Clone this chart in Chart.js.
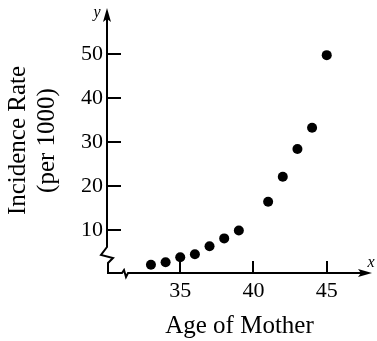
<!DOCTYPE html>
<html>
<head>
<meta charset="utf-8">
<script src="https://cdn.jsdelivr.net/npm/chart.js@4/dist/chart.umd.min.js"></script>
<style>
  html, body { margin: 0; padding: 0; background: #fff; }
  #chart { display: block; }
</style>
</head>
<body>
<canvas id="chart" width="377" height="341"></canvas>
<script>
// Incidence rate (per 1000 births) by age of mother
const ages = [33, 34, 35, 36, 37, 38, 39, 41, 42, 43, 44, 45];
const rates = [2.2, 2.8, 3.9, 4.6, 6.4, 8.2, 10.0, 16.5, 22.2, 28.5, 33.3, 49.8];
const xTickValues = [35, 40, 45];
const yTickValues = [10, 20, 30, 40, 50];

const SERIF = '"Liberation Serif", "Times New Roman", serif';

// Draws the axes with arrowheads, the axis-break zigzags and the inward tick marks
const axesPlugin = {
  id: 'brokenAxes',
  afterDraw(chart) {
    const ctx = chart.ctx;
    const { left: L, right: R, top: T, bottom: B } = chart.chartArea;
    const xs = chart.scales.x, ys = chart.scales.y;
    ctx.save();
    ctx.strokeStyle = '#000';
    ctx.fillStyle = '#000';
    ctx.lineWidth = 2;
    ctx.lineJoin = 'miter';

    // vertical axis with break
    ctx.beginPath();
    ctx.moveTo(L, T + 6);
    ctx.lineTo(L, B - 26);
    ctx.lineTo(L - 6, B - 18);
    ctx.lineTo(L + 6, B - 15);
    ctx.lineTo(L + 1, B - 10);
    ctx.lineTo(L + 1, B);
    // horizontal axis with break
    ctx.lineTo(L + 15, B);
    ctx.lineTo(L + 17, B - 3);
    ctx.lineTo(L + 19, B + 4);
    ctx.lineTo(L + 21, B);
    ctx.lineTo(R - 6, B);
    ctx.stroke();

    // arrowheads
    ctx.beginPath();
    ctx.moveTo(L, T);
    ctx.lineTo(L + 4, T + 14);
    ctx.lineTo(L, T + 11);
    ctx.lineTo(L - 4, T + 14);
    ctx.closePath();
    ctx.fill();
    ctx.beginPath();
    ctx.moveTo(R, B);
    ctx.lineTo(R - 14, B - 4);
    ctx.lineTo(R - 11, B);
    ctx.lineTo(R - 14, B + 4);
    ctx.closePath();
    ctx.fill();

    // tick marks pointing into the plot
    ctx.beginPath();
    ys.ticks.forEach(t => {
      const py = Math.round(ys.getPixelForValue(t.value));
      ctx.moveTo(L, py);
      ctx.lineTo(L + 14, py);
    });
    xs.ticks.forEach(t => {
      const px = Math.round(xs.getPixelForValue(t.value));
      ctx.moveTo(px, B);
      ctx.lineTo(px, B - 12);
    });
    ctx.stroke();

    // axis letters
    ctx.font = 'italic 16px ' + SERIF;
    ctx.textAlign = 'center';
    ctx.textBaseline = 'middle';
    ctx.fillText('y', L - 10, T + 5);
    ctx.fillText('x', R - 1, B - 10);
    ctx.restore();
  }
};

new Chart(document.getElementById('chart'), {
  type: 'scatter',
  data: {
    datasets: [{
      data: ages.map((a, i) => ({ x: a, y: rates[i] })),
      backgroundColor: '#000',
      borderColor: '#000',
      pointRadius: 5,
      pointHoverRadius: 5,
      borderWidth: 0
    }]
  },
  options: {
    responsive: false,
    animation: false,
    devicePixelRatio: 1,
    events: [],
    layout: { padding: { top: 8, right: 2, left: 0, bottom: 0 } },
    plugins: { legend: { display: false }, tooltip: { enabled: false } },
    scales: {
      x: {
        type: 'linear',
        min: 30,
        max: 48.09,
        border: { display: false },
        grid: { display: false, drawTicks: false },
        afterBuildTicks: s => { s.ticks = xTickValues.map(v => ({ value: v })); },
        afterFit: s => { s.height = 68; s.paddingLeft = 0; s.paddingRight = 0; },
        ticks: {
          color: '#000',
          font: { family: SERIF, size: 22 },
          padding: 5,
          maxRotation: 0,
          autoSkip: false
        },
        title: {
          display: true,
          text: 'Age of Mother',
          color: '#000',
          font: { family: SERIF, size: 25 },
          padding: { top: 6, bottom: 0 }
        }
      },
      y: {
        type: 'linear',
        min: 0.34,
        max: 60.5,
        border: { display: false },
        grid: { display: false, drawTicks: false },
        afterBuildTicks: s => { s.ticks = yTickValues.map(v => ({ value: v })); },
        afterFit: s => { s.width = 107; s.paddingTop = 0; s.paddingBottom = 0; },
        ticks: {
          color: '#000',
          font: { family: SERIF, size: 22 },
          padding: 4,
          autoSkip: false
        },
        title: {
          display: true,
          text: ['Incidence Rate', '(per 1000)'],
          color: '#000',
          font: { family: SERIF, size: 25, lineHeight: 1.15 },
          padding: { top: 4, bottom: 0 }
        }
      }
    }
  },
  plugins: [axesPlugin]
});
</script>
</body>
</html>
